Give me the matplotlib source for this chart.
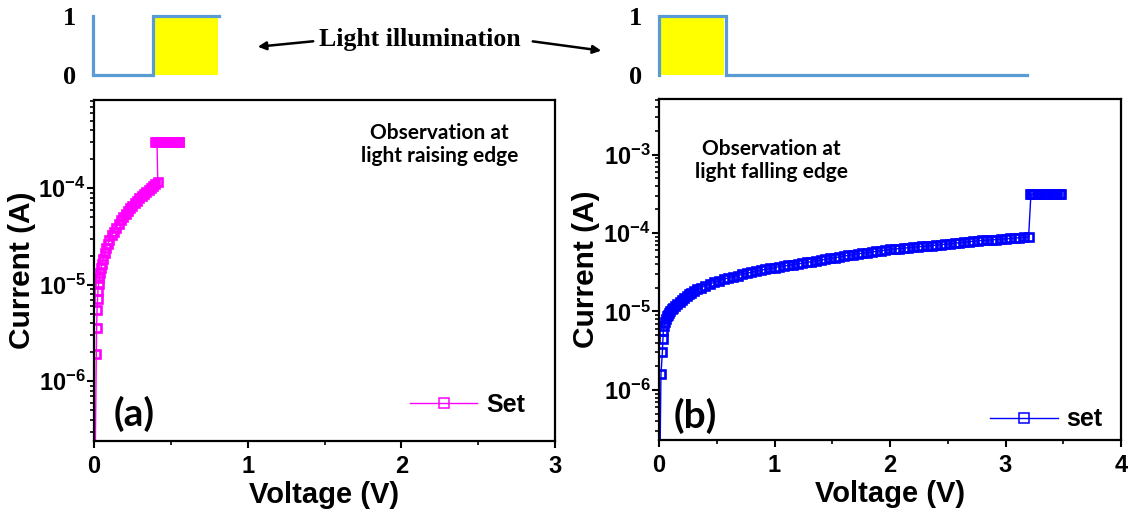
import numpy as np
import matplotlib.pyplot as plt
from matplotlib.ticker import LogLocator, MultipleLocator, NullFormatter, FuncFormatter

plt.rcParams['font.family'] = ['Liberation Sans', 'DejaVu Sans']
plt.rcParams['font.weight'] = 'bold'
plt.rcParams['mathtext.fontset'] = 'custom'
plt.rcParams['mathtext.rm'] = 'Liberation Sans:bold'
plt.rcParams['mathtext.bf'] = 'Liberation Sans:bold'
plt.rcParams['mathtext.it'] = 'Liberation Sans:bold'

# (a) light raising edge -- voltage (V), current in units of 1e-5 A
volt_a = [0.000, 0.015, 0.017, 0.020, 0.023, 0.026, 0.030, 0.035, 0.040, 0.045,
          0.050, 0.060, 0.070, 0.080, 0.090, 0.100, 0.115, 0.130, 0.145, 0.160,
          0.175, 0.190, 0.205, 0.220, 0.235, 0.250, 0.265, 0.280, 0.295, 0.310,
          0.325, 0.340, 0.355, 0.370, 0.385, 0.400, 0.415,
          0.410, 0.400, 0.420, 0.430, 0.440, 0.450, 0.460, 0.470, 0.480, 0.490,
          0.500, 0.510, 0.520, 0.530, 0.540, 0.550, 0.555]
curr_a = [0.001, 0.19, 0.36, 0.55, 0.71, 0.87, 1.02, 1.17, 1.32, 1.48,
          1.62, 1.86, 2.14, 2.40, 2.63, 2.88, 3.24, 3.55, 3.89, 4.27,
          4.68, 5.01, 5.37, 5.75, 6.17, 6.61, 7.08, 7.41, 7.94, 8.32,
          8.71, 9.12, 9.55, 10.0, 10.5, 11.0, 11.7,
          30.0, 30.0, 30.0, 30.0, 30.0, 30.0, 30.0, 30.0, 30.0, 30.0,
          30.0, 30.0, 30.0, 30.0, 30.0, 30.0, 30.0]

# (b) light falling edge -- voltage (V), current in units of 1e-5 A
volt_b = [0.000, 0.017, 0.029, 0.034, 0.037, 0.043, 0.050, 0.058, 0.066, 0.075,
          0.085, 0.095, 0.110, 0.125, 0.140, 0.160, 0.180, 0.200, 0.220, 0.240,
          0.260, 0.280, 0.300, 0.330, 0.360, 0.400, 0.440, 0.480, 0.520, 0.560,
          0.600, 0.640, 0.680, 0.720, 0.760, 0.800, 0.840, 0.880, 0.920, 0.960,
          1.000, 1.040, 1.080, 1.120, 1.160, 1.200, 1.240, 1.280, 1.320, 1.360,
          1.400, 1.440, 1.480, 1.520, 1.560, 1.600, 1.640, 1.680, 1.720, 1.760,
          1.800, 1.840, 1.880, 1.920, 1.960, 2.000, 2.040, 2.080, 2.120, 2.160,
          2.200, 2.240, 2.280, 2.320, 2.360, 2.400, 2.440, 2.480, 2.520, 2.560,
          2.600, 2.640, 2.680, 2.720, 2.760, 2.800, 2.840, 2.880, 2.920, 2.960,
          3.000, 3.040, 3.080, 3.120, 3.160, 3.200,
          3.220, 3.210, 3.230, 3.250, 3.270, 3.290, 3.310, 3.330, 3.350, 3.370,
          3.390, 3.410, 3.430, 3.450, 3.470, 3.480]
curr_b = [0.001, 0.158, 0.30, 0.44, 0.56, 0.65, 0.74, 0.81, 0.87, 0.91,
          0.95, 1.00, 1.06, 1.12, 1.18, 1.25, 1.33, 1.41, 1.50, 1.58,
          1.66, 1.74, 1.81, 1.91, 2.00, 2.12, 2.24, 2.36, 2.47, 2.58,
          2.68, 2.78, 2.87, 2.96, 3.06, 3.16, 3.25, 3.34, 3.44, 3.53,
          3.63, 3.71, 3.79, 3.87, 3.95, 4.04, 4.12, 4.22, 4.32, 4.42,
          4.52, 4.62, 4.73, 4.84, 4.95, 5.07, 5.19, 5.31, 5.42, 5.52,
          5.62, 5.73, 5.83, 5.94, 6.05, 6.17, 6.25, 6.32, 6.41, 6.49,
          6.58, 6.67, 6.75, 6.84, 6.92, 7.01, 7.11, 7.20, 7.29, 7.41,
          7.52, 7.63, 7.74, 7.85, 7.96, 8.04, 8.11, 8.19, 8.26, 8.34,
          8.41, 8.51, 8.61, 8.71, 8.81, 8.91,
          31.0, 31.0, 31.0, 31.0, 31.0, 31.0, 31.0, 31.0, 31.0, 31.0,
          31.0, 31.0, 31.0, 31.0, 31.0, 31.0]

# light pulse schematics (time in arbitrary units, level 0/1)
pulse_a_t = [0, 0, 1, 1, 2.1]
pulse_a_lvl = [1, 0, 0, 1, 1]
light_a = [1.0, 2.08]
pulse_b_t = [0, 0, 1, 1, 5.5]
pulse_b_lvl = [0, 1, 1, 0, 0]
light_b = [0.0, 0.97]

W, H = 1135, 518
fig = plt.figure(figsize=(W / 100, H / 100), dpi=100)


def sci(y, pos):
    return r'$\mathbf{10^{%d}}$' % int(round(np.log10(y)))


def style(ax, xmax, ylim):
    ax.set_yscale('log')
    ax.set_xlim(0, xmax)
    ax.set_ylim(*ylim)
    ax.xaxis.set_major_locator(MultipleLocator(1))
    ax.xaxis.set_minor_locator(MultipleLocator(0.5))
    ax.yaxis.set_major_locator(LogLocator(base=10, numticks=12))
    ax.yaxis.set_minor_locator(LogLocator(base=10, subs=np.arange(2, 10), numticks=30))
    ax.yaxis.set_minor_formatter(NullFormatter())
    ax.yaxis.set_major_formatter(FuncFormatter(sci))
    ax.tick_params(which='major', direction='out', length=5, width=1.5, labelsize=17)
    ax.tick_params(which='minor', direction='out', length=3, width=1.2)
    ax.tick_params(axis='y', which='major', pad=1)
    ax.tick_params(axis='x', which='major', pad=5)
    for s in ax.spines.values():
        s.set_linewidth(1.6)
    ax.set_xlabel('Voltage (V)', fontsize=21, fontweight='bold', labelpad=2)
    ax.set_ylabel('Current (A)', fontsize=21.5, fontweight='bold')


ax_a = fig.add_axes([94 / W, 77 / H, 461 / W, 341 / H])
ax_a.plot(volt_a, np.array(curr_a) * 1e-5, '-', color='#ff00ff', lw=1)
ax_a.plot(volt_a, np.array(curr_a) * 1e-5, 's', color='#ff00ff', mfc='none',
          ms=6.2, mew=1.9)
ax_a.plot([], [], '-s', color='#ff00ff', mfc='none', ms=6.5, mew=1.1, lw=1, label='Set')
style(ax_a, 3, (2.4e-7, 8.2e-4))
ax_a.yaxis.set_label_coords(-0.125, 0.5)
ax_a.legend(loc='lower right', bbox_to_anchor=(0.935, 0.07), frameon=False,
            prop={'size': 18, 'weight': 'bold'}, handlelength=2.7,
            handletextpad=0.35, borderpad=0, borderaxespad=0)
ax_a.text(0.75, 0.87, 'Observation at\nlight raising edge', transform=ax_a.transAxes,
          ha='center', va='center', fontsize=15, fontweight='bold',
          family='Lato', linespacing=1.2)
ax_a.text(0.088, 0.08, '(a)', transform=ax_a.transAxes, ha='center', va='center',
          fontsize=28, fontweight='bold', family='Lato')

ax_b = fig.add_axes([659 / W, 78 / H, 462 / W, 341 / H])
ax_b.plot(volt_b, np.array(curr_b) * 1e-5, '-', color='#0000ff', lw=1)
ax_b.plot(volt_b, np.array(curr_b) * 1e-5, 's', color='#0000ff', mfc='none',
          ms=6.2, mew=1.9)
ax_b.plot([], [], '-s', color='#0000ff', mfc='none', ms=6.5, mew=1.1, lw=1, label='set')
style(ax_b, 4, (2.3e-7, 5.1e-3))
ax_b.yaxis.set_label_coords(-0.128, 0.5)
ax_b.legend(loc='lower right', bbox_to_anchor=(0.96, 0.025), frameon=False,
            prop={'size': 18, 'weight': 'bold'}, handlelength=2.7,
            handletextpad=0.35, borderpad=0, borderaxespad=0)
ax_b.text(0.243, 0.82, 'Observation at\nlight falling edge', transform=ax_b.transAxes,
          ha='center', va='center', fontsize=15, fontweight='bold',
          family='Lato', linespacing=1.2)
ax_b.text(0.078, 0.07, '(b)', transform=ax_b.transAxes, ha='center', va='center',
          fontsize=28, fontweight='bold', family='Lato')

# pulse schematics on top
wave_color = '#5b9bd5'
for rect, t, lvl, light in [([93 / W, 1 - 75 / H, 126 / W, 59 / H], pulse_a_t, pulse_a_lvl, light_a),
                            ([659 / W, 1 - 75 / H, 368 / W, 59 / H], pulse_b_t, pulse_b_lvl, light_b)]:
    axw = fig.add_axes(rect)
    axw.fill_between(light, 0, 1, color='#ffff00', lw=0)
    axw.plot(t, lvl, color=wave_color, lw=2.3, clip_on=False, solid_joinstyle='miter')
    axw.set_xlim(t[0], t[-1])
    axw.set_ylim(0, 1)
    for s in axw.spines.values():
        s.set_visible(False)
    axw.set_xticks([])
    axw.set_yticks([0, 1])
    axw.set_yticklabels(['0', '1'], family='Liberation Serif', fontweight='bold', fontsize=19)
    axw.tick_params(axis='y', length=0, pad=12)
    axw.patch.set_alpha(0)

fig.text(0.37, 0.923, 'Light illumination', ha='center', va='center',
         family='Liberation Serif', fontweight='bold', fontsize=18.5)
arrow = dict(arrowstyle='-|>', color='black', lw=1.8, mutation_scale=12)
fig.add_artist(plt.Annotation('', xy=(255 / W, 1 - 47 / H), xytext=(316 / W, 1 - 41 / H),
                              xycoords='figure fraction', textcoords='figure fraction',
                              arrowprops=arrow))
fig.add_artist(plt.Annotation('', xy=(604 / W, 1 - 51 / H), xytext=(530 / W, 1 - 41 / H),
                              xycoords='figure fraction', textcoords='figure fraction',
                              arrowprops=arrow))

fig.savefig('out.png', dpi=100)
